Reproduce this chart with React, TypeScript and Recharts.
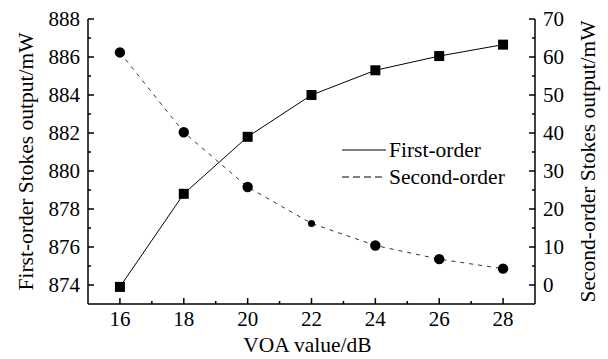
import React from "react";
import { LineChart, Line, XAxis, YAxis, Legend } from "recharts";

const voa = [16, 18, 20, 22, 24, 26, 28];
const firstOrder = [873.9, 878.8, 881.8, 884.0, 885.3, 886.05, 886.65];
const secondOrder = [61.2, 40.2, 25.8, 16.2, 10.4, 6.8, 4.3];

const xTicks = [16, 17, 18, 19, 20, 21, 22, 23, 24, 25, 26, 27, 28];
const leftTicks = [874, 875, 876, 877, 878, 879, 880, 881, 882, 883, 884, 885, 886, 887, 888];
const rightTicks = [0, 5, 10, 15, 20, 25, 30, 35, 40, 45, 50, 55, 60, 65, 70];

const data = voa.map((v, i) => ({ voa: v, first: firstOrder[i], second: secondOrder[i] }));

const FONT = "'Liberation Serif', 'DejaVu Serif', serif";
const FS = 21;
const TFS = 21.5;
const MAJ = 6;
const MIN = 3;

const BottomTick = (props: any) => {
  const { x, y, payload } = props;
  const v = payload.value;
  const major = v % 2 === 0;
  return (
    <g>
      <line x1={x} x2={x} y1={y} y2={y - (major ? MAJ : MIN)} stroke="#000" strokeWidth={1.5} />
      {major && (
        <text x={x} y={y + 22} textAnchor="middle" fontFamily={FONT} fontSize={FS} fill="#000">
          {v}
        </text>
      )}
    </g>
  );
};

const TopTick = (props: any) => {
  const { x, y, payload } = props;
  const major = payload.value % 2 === 0;
  return <line x1={x} x2={x} y1={y} y2={y + (major ? MAJ : MIN)} stroke="#000" strokeWidth={1.5} />;
};

const LeftTick = (props: any) => {
  const { x, y, payload } = props;
  const v = payload.value;
  const major = v % 2 === 0;
  return (
    <g>
      <line x1={x} x2={x + (major ? MAJ : MIN)} y1={y} y2={y} stroke="#000" strokeWidth={1.5} />
      {major && (
        <text x={x - 8} y={y + 7} textAnchor="end" fontFamily={FONT} fontSize={FS} fill="#000">
          {v}
        </text>
      )}
    </g>
  );
};

const RightTick = (props: any) => {
  const { x, y, payload } = props;
  const v = payload.value;
  const major = v % 10 === 0;
  return (
    <g>
      <line x1={x} x2={x - (major ? MAJ : MIN)} y1={y} y2={y} stroke="#000" strokeWidth={1.5} />
      {major && (
        <text x={x + 8} y={y + 7} textAnchor="start" fontFamily={FONT} fontSize={FS} fill="#000">
          {v}
        </text>
      )}
    </g>
  );
};

const SquareDot = (props: any) => {
  const { cx, cy, index } = props;
  if (cx == null || cy == null) return null;
  return <rect key={`sq-${index}`} x={cx - 5} y={cy - 5} width={10} height={10} fill="#000" />;
};

const CircleDot = (props: any) => {
  const { cx, cy, index } = props;
  if (cx == null || cy == null) return null;
  const r = index === 3 ? 3.5 : 5.2;
  return <circle key={`c-${index}`} cx={cx} cy={cy} r={r} fill="#000" />;
};

const LegendContent = () => (
  <svg width={190} height={60}>
    <line x1={2} x2={46} y1={12} y2={12} stroke="#000" strokeWidth={1} />
    <text x={49} y={19} fontFamily={FONT} fontSize={TFS} fill="#000">First-order</text>
    <line x1={2} x2={46} y1={39} y2={39} stroke="#000" strokeWidth={1} strokeDasharray="7 4" />
    <text x={49} y={46} fontFamily={FONT} fontSize={TFS} fill="#000">Second-order</text>
  </svg>
);

export default function App() {
  return (
    <div style={{ position: "absolute", left: 0, top: 0, width: 608, height: 359, background: "#fff" }}>
      <LineChart width={608} height={359} data={data} margin={{ top: 19, right: 0, bottom: 0, left: 0 }}>
        <XAxis
          xAxisId="bottom"
          dataKey="voa"
          type="number"
          domain={[15, 29]}
          ticks={xTicks}
          interval={0}
          height={55}
          tickSize={0}
          tickMargin={0}
          tickLine={false}
          axisLine={{ stroke: "#000", strokeWidth: 1.5 }}
          tick={<BottomTick />}
          label={{ value: "VOA value/dB", position: "insideBottom", offset: 7, dx: -4, fontFamily: FONT, fontSize: TFS, fill: "#000" }}
        />
        <XAxis
          xAxisId="top"
          orientation="top"
          dataKey="voa"
          type="number"
          domain={[15, 29]}
          ticks={xTicks}
          interval={0}
          height={0}
          tickSize={0}
          tickMargin={0}
          tickLine={false}
          axisLine={{ stroke: "#000", strokeWidth: 1.5 }}
          tick={<TopTick />}
        />
        <YAxis
          yAxisId="left"
          orientation="left"
          type="number"
          domain={[873, 888]}
          ticks={leftTicks}
          interval={0}
          width={88}
          tickSize={0}
          tickMargin={0}
          tickLine={false}
          axisLine={{ stroke: "#000", strokeWidth: 1.5 }}
          tick={<LeftTick />}
          label={{ value: "First-order Stokes output/mW", angle: -90, position: "insideLeft", offset: 25, fontFamily: FONT, fontSize: TFS, fill: "#000", style: { textAnchor: "middle" } }}
        />
        <YAxis
          yAxisId="right"
          orientation="right"
          type="number"
          domain={[-5, 70]}
          ticks={rightTicks}
          interval={0}
          width={73}
          tickSize={0}
          tickMargin={0}
          tickLine={false}
          axisLine={{ stroke: "#000", strokeWidth: 1.5 }}
          tick={<RightTick />}
          label={{ value: "Second-order Stokes output/mW", angle: -90, position: "insideRight", offset: 21, fontFamily: FONT, fontSize: TFS, fill: "#000", style: { textAnchor: "middle" } }}
        />
        <Legend
          layout="vertical"
          align="center"
          verticalAlign="middle"
          content={<LegendContent />}
          wrapperStyle={{ position: "absolute", left: 340, top: 138, width: 190, height: 60 }}
        />
        <Line
          xAxisId="bottom"
          yAxisId="left"
          dataKey="first"
          name="First-order"
          stroke="#000"
          strokeWidth={1}
          dot={<SquareDot />}
          activeDot={false}
          isAnimationActive={false}
        />
        <Line
          xAxisId="bottom"
          yAxisId="right"
          dataKey="second"
          name="Second-order"
          stroke="#333"
          strokeWidth={1}
          strokeDasharray="4 5"
          dot={<CircleDot />}
          activeDot={false}
          isAnimationActive={false}
        />
      </LineChart>
    </div>
  );
}
